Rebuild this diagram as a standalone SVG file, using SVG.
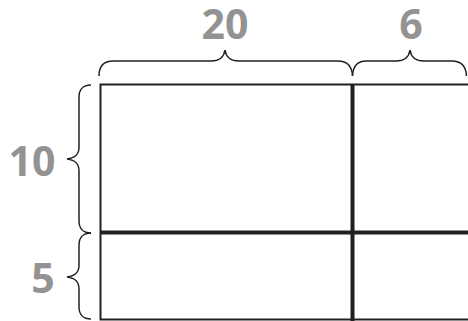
<svg xmlns="http://www.w3.org/2000/svg" width="468" height="321" viewBox="0 0 468 321">
<style>
.lbl{font-family:"Open Sans","Liberation Sans",sans-serif;font-weight:bold;font-size:41px;fill:#939393;text-anchor:middle}
.brace{fill:none;stroke:#231f20;stroke-width:1.5}
.border{fill:none;stroke:#231f20;stroke-width:2}
.div{fill:none;stroke:#231f20;stroke-width:4}
</style>
<rect width="468" height="321" fill="#fff"/>
<g id="grid">
<path class="border" d="M470,84.5 H100.5 V319.5 H470"/>
<path class="div" d="M352.5,84 V321 M100,232.5 H470"/>
</g>
<g id="braces">
<path class="brace" d="M99,76 C99,66 103,61 113,61 H211 C220,61 224,57 225,50 C226,57 230,61 239,61 H338 C347,61 352,66 352.5,76"/>
<path class="brace" d="M352.5,76 C353,66 357,61 366,61 H396 C405,61 409,57 410,50 C411,57 415,61 424,61 H452 C461,61 466,66 466.5,76"/>
<path class="brace" d="M91,85 C84,85 79,89 79,97 V147 C79,155 75,158 67,159 C75,160 79,163 79,171 V221 C79,229 84,233 91,233"/>
<path class="brace" d="M91,233 C84,233 79,237 79,245 V265 C79,273 75,276 67,277 C75,278 79,281 79,289 V307 C79,315 84,319 91,319"/>
</g>
<g id="labels">
<text class="lbl" x="225" y="39">20</text>
<text class="lbl" x="411" y="39">6</text>
<text class="lbl" x="32" y="176">10</text>
<text class="lbl" x="43" y="293">5</text>
</g>
</svg>
